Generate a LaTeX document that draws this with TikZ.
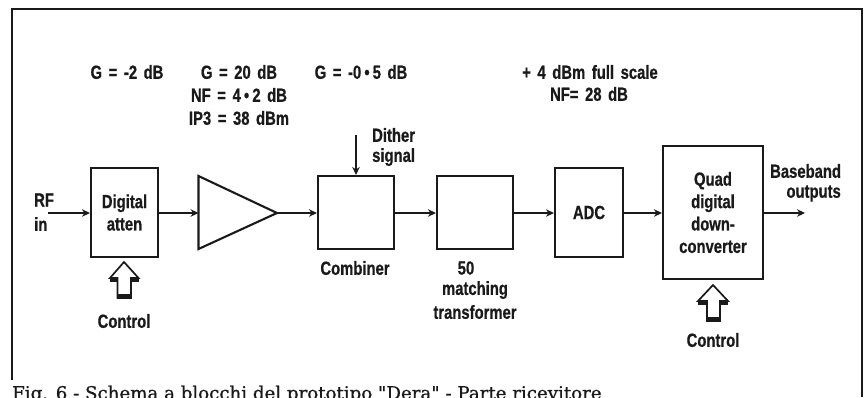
\documentclass[tikz,border=0pt]{standalone}
\usepackage{fontspec}
\newfontfamily\lab[FakeStretch=0.78,WordSpace=1.6,BoldFeatures={FakeBold=0.6}]{Liberation Sans}
\newfontfamily\capfont[FakeBold=0.8]{DejaVu Serif}
\usetikzlibrary{arrows.meta}
\definecolor{ink}{HTML}{1A1A1A}
\tikzset{
  x=1pt,y=-1pt,
  wire/.style={draw=ink,line width=1.7pt,-{Stealth[length=8pt,width=7.5pt]}},
  blockbox/.style={draw=ink,line width=2.1pt,inner sep=0pt,align=center,font=\lab\bfseries\fontsize{19}{22.4}\selectfont,text=ink},
  lbl/.style={inner sep=0pt,align=center,text=ink,font=\lab\bfseries\fontsize{19}{22.4}\selectfont},
  hollow/.style={draw=ink,line width=1.7pt,fill=white,line join=miter},
}
\begin{document}
\begin{tikzpicture}
\useasboundingbox (0,0) rectangle (868,397);
\fill[white] (0,0) rectangle (868,397);
% frame
\draw[ink,line width=2.2pt] (12,380) -- (12,9) -- (862,9) -- (862,397);
% blocks
\node[blockbox,minimum width=67pt,minimum height=89pt] (atten) at (124.5,212.5) {Digital\\atten};
\coordinate (ampin) at (198.5,213);
\coordinate (ampout) at (277,213);
\draw[ink,line width=2.1pt,line join=miter] (198.5,176) -- (ampout) -- (198.5,249) -- cycle;
\node[blockbox,minimum width=76pt,minimum height=73pt] (comb) at (356,212.5) {};
\node[blockbox,minimum width=76pt,minimum height=73pt] (xfmr) at (475,212.5) {};
\node[blockbox,minimum width=68pt,minimum height=89pt] (adc) at (589,212.5) {ADC};
\node[blockbox,minimum width=100pt,minimum height=133pt] (ddc) at (713,212.5) {Quad\\digital\\down-\\converter};
% free ends
\coordinate (rfin) at (48,213);
\coordinate (bbout) at (805,213);
\coordinate (dith) at (356,135);
% connectors
\draw[wire] (rfin) -- (atten.west |- rfin);
\draw[wire] (atten.east |- ampin) -- (ampin);
\draw[wire] (ampout) -- (comb.west |- ampout);
\draw[wire] (comb.east |- ampout) -- (xfmr.west |- ampout);
\draw[wire] (xfmr.east |- ampout) -- (adc.west |- ampout);
\draw[wire] (adc.east |- ampout) -- (ddc.west |- ampout);
\draw[wire] (ddc.east |- bbout) -- (bbout);
\draw[wire] (dith) -- (comb.north);
% hollow control arrows
\draw[hollow] (124,262) -- (138.5,278) -- (131,278) -- (131,298) -- (117.5,298) -- (117.5,278) -- (110,278) -- cycle;
\fill[ink] (117,293.5) rectangle (131.5,298.5);
\fill[ink] (110,278) -- (117.5,278) -- (117.5,282) -- (110,282) -- cycle;
\fill[ink] (131,278) -- (138.5,278) -- (138.5,282) -- (131,282) -- cycle;
\draw[hollow] (713,285) -- (728,301) -- (720,301) -- (720,321) -- (707,321) -- (707,301) -- (698,301) -- cycle;
\fill[ink] (706.5,316.5) rectangle (720.5,321.5);
\fill[ink] (698,301) -- (707,301) -- (707,305) -- (698,305) -- cycle;
\fill[ink] (720,301) -- (728,301) -- (728,305) -- (720,305) -- cycle;
% labels
\node[lbl] (g1) at (127,72) {G = -2 dB};
\node[lbl] (g2) at (239,72) {G = 20 dB};
\node[lbl] (nf2) at (239,95) {NF = 4\,•\,2 dB};
\node[lbl] (ip3) at (239,118) {IP3 = 38 dBm};
\node[lbl] (g3) at (361,72) {G = -0\,•\,5 dB};
\node[lbl] (fs) at (590,72) {+ 4 dBm full scale};
\node[lbl] (nf4) at (589,94) {NF= 28 dB};
\node[lbl,anchor=west] (dit1) at (372,135) {Dither};
\node[lbl,anchor=west] (dit2) at (372,157) {signal};
\node[lbl,anchor=west] (rf) at (34,200) {RF};
\node[lbl,anchor=west] (inn) at (34,224) {in};
\node[lbl] (ctl1) at (124,321) {Control};
\node[lbl] (cmb) at (355,268) {Combiner};
\node[lbl] (fifty) at (466,268) {50};
\node[lbl] (mat) at (475,290) {matching};
\node[lbl] (trf) at (475,312) {transformer};
\node[lbl,anchor=west] (bb1) at (770,171) {Baseband};
\node[lbl,anchor=east] (bb2) at (841,193.5) {outputs};
\node[lbl] (ctl2) at (713,340) {Control};
% caption, cut by the page edge
\begin{scope}
\clip (0,0) rectangle (868,397);
\node[anchor=base west,inner sep=0pt,text=ink,font=\capfont\fontsize{18.2}{20}\selectfont] (capt) at (12,399.5) {Fig. 6 - Schema a blocchi del prototipo "Dera" - Parte ricevitore};
\end{scope}
\end{tikzpicture}
\end{document}
